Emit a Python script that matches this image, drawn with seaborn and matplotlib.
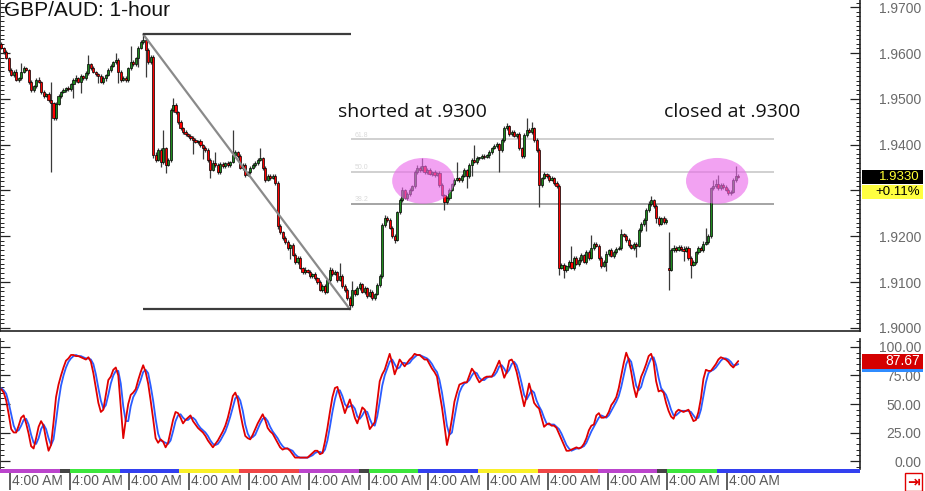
import numpy as np
import pandas as pd
import matplotlib
matplotlib.use("Agg")
import matplotlib.pyplot as plt
import matplotlib.transforms as mtransforms
from matplotlib.patches import Ellipse, Rectangle
from matplotlib.ticker import MultipleLocator
import seaborn as sns

# ---------------- data (hourly candles, one row = 24 hours) ----------------
closes = [
    1.9611, 1.9602, 1.9589, 1.9563, 1.9552, 1.9559, 1.9541, 1.9545, 1.9559, 1.9567, 1.9563, 1.9537,
    1.9519, 1.9528, 1.9541, 1.9537, 1.9515, 1.9506, 1.9511, 1.9497, 1.9491, 1.9458, 1.9489, 1.9506,
    1.9515, 1.9519, 1.9524, 1.9521, 1.9532, 1.9541, 1.9545, 1.9537, 1.9550, 1.9545, 1.9556, 1.9576,
    1.9567, 1.9559, 1.9554, 1.9550, 1.9537, 1.9545, 1.9552, 1.9563, 1.9572, 1.9580, 1.9585, 1.9559,
    1.9541, 1.9545, 1.9541, 1.9567, 1.9580, 1.9576, 1.9589, 1.9611, 1.9624, 1.9628, 1.9607, 1.9580,
    1.9591, 1.9377, 1.9367, 1.9388, 1.9362, 1.9393, 1.9356, 1.9367, 1.9476, 1.9487, 1.9471, 1.9449,
    1.9436, 1.9428, 1.9423, 1.9419, 1.9415, 1.9410, 1.9406, 1.9408, 1.9399, 1.9393, 1.9388, 1.9367,
    1.9345, 1.9360, 1.9356, 1.9340, 1.9358, 1.9353, 1.9360, 1.9356, 1.9362, 1.9377, 1.9384, 1.9375,
    1.9349, 1.9356, 1.9334, 1.9340, 1.9349, 1.9356, 1.9360, 1.9367, 1.9371, 1.9349, 1.9323, 1.9332,
    1.9327, 1.9332, 1.9316, 1.9223, 1.9209, 1.9196, 1.9188, 1.9175, 1.9181, 1.9159, 1.9144, 1.9153,
    1.9131, 1.9122, 1.9127, 1.9122, 1.9113, 1.9118, 1.9109, 1.9100, 1.9083, 1.9092, 1.9079, 1.9105,
    1.9127, 1.9118, 1.9122, 1.9105, 1.9113, 1.9092, 1.9083, 1.9065, 1.9050, 1.9083, 1.9074, 1.9087,
    1.9096, 1.9079, 1.9087, 1.9070, 1.9079, 1.9065, 1.9074, 1.9094, 1.9113, 1.9225, 1.9240, 1.9236,
    1.9218, 1.9201, 1.9192, 1.9253, 1.9279, 1.9301, 1.9284, 1.9292, 1.9301, 1.9310, 1.9340, 1.9349,
    1.9345, 1.9353, 1.9340, 1.9345, 1.9336, 1.9340, 1.9334, 1.9338, 1.9312, 1.9290, 1.9275, 1.9284,
    1.9301, 1.9314, 1.9323, 1.9327, 1.9323, 1.9332, 1.9345, 1.9332, 1.9356, 1.9367, 1.9362, 1.9371,
    1.9371, 1.9375, 1.9373, 1.9377, 1.9384, 1.9393, 1.9397, 1.9401, 1.9388, 1.9410, 1.9436, 1.9441,
    1.9423, 1.9428, 1.9419, 1.9423, 1.9393, 1.9375, 1.9421, 1.9432, 1.9428, 1.9436, 1.9410, 1.9388,
    1.9312, 1.9327, 1.9336, 1.9332, 1.9323, 1.9327, 1.9316, 1.9310, 1.9131, 1.9138, 1.9127, 1.9135,
    1.9144, 1.9131, 1.9153, 1.9140, 1.9149, 1.9159, 1.9144, 1.9166, 1.9153, 1.9175, 1.9184, 1.9179,
    1.9153, 1.9135, 1.9144, 1.9162, 1.9170, 1.9157, 1.9166, 1.9173, 1.9175, 1.9205, 1.9201, 1.9192,
    1.9181, 1.9175, 1.9184, 1.9179, 1.9214, 1.9227, 1.9236, 1.9257, 1.9271, 1.9279, 1.9266, 1.9240,
    1.9227, 1.9240, 1.9231, 1.9236, 1.9127, 1.9170, 1.9175, 1.9170, 1.9177, 1.9173, 1.9168, 1.9175,
    1.9153, 1.9138, 1.9144, 1.9166, 1.9175, 1.9170, 1.9184, 1.9188, 1.9201, 1.9305, 1.9310, 1.9314,
    1.9305, 1.9312, 1.9308, 1.9301, 1.9295, 1.9297, 1.9323, 1.9332, 1.9330,
]
first_open = 1.9620
gap_opens = {268: 1.9131}  # weekend open

# wick length in pips beyond the candle body
upper_wick = [
    4, 3, 5, 2, 4, 3, 6, 3, 20, 4, 3, 2, 5, 3, 4, 6, 3, 4, 2, 5, 40, 3, 4, 5,
    3, 4, 2, 5, 3, 4, 6, 3, 4, 2, 5, 20, 3, 4, 2, 3, 5, 4, 3, 4, 5, 3, 15, 4,
    3, 5, 4, 3, 35, 4, 3, 5, 4, 13, 3, 4, 5, 4, 6, 5, 4, 40, 3, 5, 4, 15, 4, 3,
    4, 3, 5, 2, 4, 3, 5, 3, 4, 3, 5, 4, 3, 6, 25, 3, 4, 5, 3, 4, 3, 55, 4, 3,
    5, 3, 4, 2, 4, 3, 5, 4, 22, 3, 4, 5, 3, 4, 3, 5, 4, 3, 5, 4, 3, 4, 5, 3,
    4, 3, 5, 2, 4, 3, 5, 3, 4, 5, 3, 4, 6, 3, 4, 3, 29, 4, 3, 5, 4, 20, 3, 4,
    5, 3, 4, 3, 5, 4, 3, 4, 5, 3, 6, 4, 3, 4, 5, 3, 4, 6, 3, 4, 5, 3, 4, 6,
    5, 18, 3, 4, 5, 3, 4, 3, 5, 4, 3, 4, 5, 3, 4, 35, 3, 4, 5, 3, 4, 3, 33, 4,
    3, 4, 5, 3, 4, 3, 5, 4, 3, 4, 5, 6, 3, 4, 5, 3, 4, 3, 5, 26, 4, 13, 3, 4,
    5, 3, 4, 3, 5, 4, 3, 4, 5, 3, 4, 3, 5, 35, 4, 3, 5, 4, 3, 4, 5, 28, 3, 4,
    5, 3, 4, 6, 3, 4, 5, 3, 4, 10, 3, 4, 5, 3, 4, 3, 5, 4, 3, 4, 5, 9, 3, 4,
    5, 3, 4, 3, 78, 4, 5, 3, 4, 3, 5, 4, 3, 4, 5, 3, 4, 3, 5, 30, 4, 3, 13, 11,
    20, 4, 5, 3, 4, 3, 5, 21, 4,
]
lower_wick = [
    3, 4, 2, 5, 3, 4, 3, 5, 4, 3, 2, 4, 5, 3, 4, 3, 5, 4, 3, 4, 151, 5, 4, 3,
    4, 3, 5, 4, 3, 30, 4, 3, 25, 4, 3, 5, 4, 3, 4, 15, 3, 4, 5, 3, 4, 3, 4, 25,
    4, 3, 5, 4, 3, 4, 5, 19, 3, 4, 60, 5, 4, 6, 4, 3, 11, 4, 18, 3, 5, 4, 3, 4,
    3, 4, 5, 3, 4, 30, 3, 4, 5, 25, 3, 4, 18, 3, 4, 5, 3, 4, 3, 5, 4, 3, 4, 5,
    3, 4, 5, 3, 4, 3, 5, 4, 3, 4, 5, 3, 4, 3, 5, 6, 4, 3, 5, 4, 25, 3, 4, 5,
    3, 4, 5, 3, 4, 3, 5, 4, 3, 5, 4, 3, 4, 5, 3, 4, 3, 5, 4, 3, 9, 4, 5, 3,
    4, 3, 5, 4, 3, 5, 4, 3, 4, 3, 4, 5, 3, 4, 6, 3, 5, 4, 3, 4, 5, 3, 4, 3,
    4, 3, 5, 4, 3, 4, 5, 3, 4, 3, 18, 4, 5, 3, 4, 3, 5, 4, 3, 27, 4, 25, 3, 4,
    5, 3, 4, 3, 5, 4, 3, 4, 48, 3, 4, 5, 3, 4, 3, 5, 4, 3, 4, 5, 3, 4, 5, 3,
    48, 4, 3, 5, 4, 3, 4, 5, 15, 3, 18, 4, 5, 3, 4, 3, 5, 4, 3, 4, 5, 3, 4, 3,
    4, 5, 3, 20, 4, 3, 5, 4, 3, 4, 3, 5, 4, 3, 4, 24, 3, 4, 5, 25, 3, 4, 5, 10,
    4, 3, 5, 4, 44, 3, 4, 5, 3, 4, 22, 3, 4, 29, 3, 4, 5, 3, 4, 3, 5, 4, 3, 4,
    5, 3, 4, 3, 5, 4, 3, 4, 3,
]

# stochastic oscillator (%K red, %D blue), one value per candle
stoch_k = [
    63, 60, 53, 41, 28, 25, 25, 31, 38, 40, 33, 24, 13, 11, 20, 30, 35, 31, 19, 9, 14, 34, 56, 67,
    75, 82, 88, 90, 93, 93, 92, 92, 91, 90, 89, 91, 87, 77, 64, 51, 43, 45, 58, 71, 74, 80, 82, 75,
    48, 20, 36, 50, 58, 60, 63, 71, 78, 84, 78, 68, 53, 37, 20, 16, 19, 17, 12, 16, 26, 36, 43, 42,
    38, 33, 36, 38, 40, 35, 32, 29, 27, 25, 22, 18, 15, 12, 15, 18, 22, 26, 31, 38, 47, 57, 60, 54,
    42, 31, 22, 20, 19, 23, 28, 33, 37, 41, 36, 29, 26, 24, 20, 16, 12, 10, 11, 11, 9, 6, 3, 3,
    3, 3, 3, 3, 5, 7, 9, 9, 6, 7, 17, 29, 43, 56, 64, 65, 57, 50, 42, 48, 54, 46, 38, 33,
    40, 47, 45, 37, 28, 31, 34, 52, 70, 76, 80, 87, 94, 86, 76, 82, 89, 86, 83, 86, 89, 91, 94, 93,
    93, 91, 89, 89, 85, 81, 78, 74, 60, 47, 31, 14, 24, 37, 52, 60, 67, 68, 69, 69, 75, 81, 78, 73,
    69, 71, 73, 74, 74, 74, 78, 83, 88, 81, 73, 78, 88, 89, 85, 78, 68, 58, 48, 57, 68, 60, 51, 48,
    46, 38, 30, 32, 33, 31, 31, 29, 24, 19, 14, 9, 9, 10, 11, 12, 11, 12, 15, 20, 27, 31, 32, 40,
    42, 38, 38, 39, 43, 49, 52, 56, 64, 75, 86, 95, 89, 78, 65, 56, 65, 74, 79, 85, 92, 94, 87, 70,
    61, 62, 60, 51, 44, 39, 37, 43, 45, 44, 43, 44, 45, 40, 35, 36, 43, 55, 72, 80, 79, 79, 82, 85,
    89, 91, 90, 89, 87, 84, 82, 85, 87.67,
]
stoch_d = [
    64, 62, 59, 51, 41, 31, 26, 27, 31, 36, 37, 32, 23, 16, 15, 20, 28, 32, 28, 20, 14, 19, 35, 52,
    66, 75, 82, 87, 90, 92, 93, 92, 92, 91, 90, 90, 89, 85, 76, 64, 53, 46, 49, 58, 68, 75, 79, 79,
    68, 48, 35, 35, 48, 56, 60, 65, 71, 78, 80, 77, 66, 53, 37, 24, 18, 17, 16, 15, 18, 26, 35, 40,
    41, 38, 36, 36, 38, 38, 36, 32, 29, 27, 25, 22, 18, 15, 14, 15, 18, 22, 26, 32, 39, 47, 55, 57,
    53, 44, 32, 24, 20, 21, 23, 28, 33, 37, 38, 35, 30, 26, 23, 20, 16, 13, 11, 11, 10, 9, 6, 4,
    3, 3, 3, 3, 4, 5, 7, 8, 8, 7, 10, 18, 30, 43, 54, 62, 62, 57, 50, 47, 48, 49, 46, 39,
    37, 40, 44, 43, 37, 32, 31, 39, 52, 66, 75, 81, 87, 89, 85, 81, 82, 86, 86, 85, 86, 89, 91, 93,
    93, 92, 91, 90, 88, 85, 81, 78, 71, 60, 46, 31, 23, 25, 38, 50, 60, 65, 68, 69, 71, 75, 78, 77,
    73, 71, 71, 73, 74, 74, 75, 78, 83, 84, 81, 77, 80, 85, 87, 84, 77, 68, 58, 54, 58, 62, 60, 53,
    48, 44, 38, 33, 32, 32, 32, 30, 28, 24, 19, 14, 11, 9, 10, 11, 11, 12, 13, 16, 21, 26, 30, 34,
    38, 40, 39, 38, 40, 44, 48, 52, 57, 65, 75, 85, 90, 87, 77, 66, 62, 65, 73, 79, 85, 90, 91, 84,
    73, 64, 61, 58, 52, 45, 40, 40, 42, 44, 44, 44, 44, 43, 40, 37, 38, 45, 57, 69, 77, 79, 80, 82,
    85, 88, 90, 90, 89, 87, 84, 84, 85,
]

# annotations
fib_ratios = [0.382, 0.5, 0.618]
fib_labels = ["38.2", "50.0", "61.8"]
fib_end_hour = 311
ellipse_hours = [170, 288]
ellipse_price = 1.9321
note_hours = [165.5, 294]
note_price = 1.9471
notes = ["shorted at .9300", "closed at .9300"]
change_text = "+0.11%"

# session colour strip and time labels
session_edges = [0, 24, 28, 48, 72, 96, 120, 144, 148, 168, 192, 216, 240, 264, 268, 288, 346]
session_colors = ["#bb44cc", "#444444", "#3ce63c", "#3340f0", "#faf028", "#f04646",
                  "#bb44cc", "#444444", "#3ce63c", "#3340f0", "#faf028", "#f04646",
                  "#bb44cc", "#444444", "#3ce63c", "#3340f0"]
label_hours = [4, 28, 52, 76, 100, 124, 148, 172, 196, 220, 244, 268, 292]
time_label = "4:00 AM"

# ---------------- build candles ----------------
n = len(closes)
close = np.array(closes)
opens = np.r_[first_open, close[:-1]]
for h, p in gap_opens.items():
    opens[h] = p
high = np.maximum(opens, close) + np.array(upper_wick[:n]) / 1e4
low = np.minimum(opens, close) - np.array(lower_wick[:n]) / 1e4
x = np.arange(n) + 0.5
candles = pd.DataFrame({"x": x, "open": opens, "close": close, "high": high, "low": low})
candles["up"] = candles["close"] >= candles["open"]

sns.set_theme(style="white")
plt.rcParams["font.family"] = ["Liberation Sans", "DejaVu Sans"]

W, H = 925, 491
PX = 2.49  # pixels per hour
x_max = 860 / PX
price_lim = (1.89934, 1.97157)
stoch_lim = (-7.0, 107.0)

fig = plt.figure(figsize=(W / 100, H / 100), dpi=100)
ax = fig.add_axes([0, 1 - 331 / H, 860 / W, 331 / H])
ax2 = fig.add_axes([0, 1 - 469 / H, 860 / W, 130 / H])
ax3 = fig.add_axes([0, 0, 860 / W, 22 / H])

# ---------------- price panel ----------------
green, red = "#1f8a1f", "#ff0000"
ax.vlines(candles["x"], candles["low"], candles["high"], color="#3a3a3a", lw=0.9, zorder=2)
body = np.maximum((candles["close"] - candles["open"]).abs(), 0.00015)
ax.bar(candles["x"], body, bottom=np.minimum(candles["open"], candles["close"]), width=0.85,
       color=np.where(candles["up"], green, red), edgecolor="black", linewidth=0.5, zorder=3)

i_hi = int(np.argmax(high))
i_lo = int(np.argmin(low))
ax.plot([x[i_hi], x[i_lo]], [high[i_hi], low[i_lo]], color="#8a8a8a", lw=1.6, zorder=4)
ax.hlines([high[i_hi], low[i_lo]], x[i_hi], x[i_lo] + 0.6, color="#3c3c3c", lw=1.6, zorder=4)

rng = high[i_hi] - low[i_lo]
for r, lab in zip(fib_ratios, fib_labels):
    lvl = low[i_lo] + r * rng
    col = "#8c8c8c" if r == fib_ratios[0] else "#c4c4c4"
    ax.hlines(lvl, x[i_lo] + 0.6, fib_end_hour, color=col, lw=1.1, zorder=1)
    ax.text(x[i_lo] + 2, lvl + 0.0006, lab, fontsize=5, color="#dadada", zorder=1)

for h in ellipse_hours:
    ax.add_patch(Ellipse((h, ellipse_price), width=25, height=0.0100, fc="#ea6aea",
                         ec="none", alpha=0.62, zorder=6))
for h, t in zip(note_hours, notes):
    ax.text(h, note_price, t, ha="center", va="center", fontsize=14,
            family=["Open Sans", "DejaVu Sans"], color="#111111", zorder=7)

ax.set_xlim(0, x_max)
ax.set_ylim(*price_lim)
p_ticks = np.round(np.arange(1.90, 1.9701, 0.01), 2)
last = close[-1]
ax.set_yticks(p_ticks)
# the label under the last-price box is covered, as on the platform
ax.set_yticklabels(["" if abs(v - last) < 0.004 else f"{v:.4f}" for v in p_ticks], ha="right")
ax.yaxis.set_minor_locator(MultipleLocator(0.001))
ax.set_xticks([])

pp = (price_lim[1] - price_lim[0]) / 331  # price per pixel
tr = mtransforms.blended_transform_factory(ax.transAxes, ax.transData)
bh = 14 * pp
ax.add_patch(Rectangle((862 / 860, last - bh / 2), 61 / 860, bh, transform=tr,
                       fc="black", ec="none", clip_on=False, zorder=10))
ax.text(920 / 860, last, f"{last:.4f}", transform=tr, ha="right", va="center",
        color="#ffff33", fontsize=9.5, clip_on=False, zorder=11)
ax.add_patch(Rectangle((862 / 860, last - bh / 2 - bh - pp), 61 / 860, bh, transform=tr,
                       fc="#ffff40", ec="none", clip_on=False, zorder=10))
ax.text(920 / 860, last - bh - pp, change_text, transform=tr, ha="right", va="center",
        color="black", fontsize=9.5, clip_on=False, zorder=11)

# ---------------- stochastic panel ----------------
sns.lineplot(x=x, y=stoch_d[:n], ax=ax2, color="#2a5cff", lw=1.3, estimator=None)
sns.lineplot(x=x, y=stoch_k[:n], ax=ax2, color="#e00000", lw=1.3, estimator=None)
ax2.set_xlim(0, x_max)
ax2.set_ylim(*stoch_lim)
s_ticks = [0, 25, 50, 75, 100]
ax2.set_yticks(s_ticks)
ax2.set_yticklabels([f"{v:.2f}" for v in s_ticks], ha="right")
ax2.yaxis.set_minor_locator(MultipleLocator(5))
ax2.set_xticks([])
ax2.set_xlabel("")
ax2.set_ylabel("")

vp = (stoch_lim[1] - stoch_lim[0]) / 130  # value per pixel
tr2 = mtransforms.blended_transform_factory(ax2.transAxes, ax2.transData)
sh = 15 * vp
ax2.add_patch(Rectangle((862 / 860, stoch_d[n - 1] - sh / 2), 61 / 860, sh, transform=tr2,
                        fc="#2f8cff", ec="none", clip_on=False, zorder=9))
ax2.add_patch(Rectangle((862 / 860, stoch_k[n - 1] - sh / 2), 61 / 860, sh, transform=tr2,
                        fc="#d40000", ec="none", clip_on=False, zorder=10))
ax2.text(920 / 860, stoch_k[n - 1], f"{stoch_k[n - 1]:.2f}", transform=tr2, ha="right",
         va="center", color="white", fontsize=10, clip_on=False, zorder=11)

for a in (ax, ax2):
    a.yaxis.tick_right()
    a.tick_params(axis="y", which="both", left=True, right=True, direction="in",
                  labelleft=False, labelright=True, labelsize=10, labelcolor="#6a6a6a",
                  pad=44, color="#222222")
    a.tick_params(axis="y", which="major", length=7, width=0.9)
    a.tick_params(axis="y", which="minor", length=3, width=0.7)
    a.spines["top"].set_visible(False)
    for s in ("left", "right", "bottom"):
        a.spines[s].set_color("#222222")
        a.spines[s].set_linewidth(1.2)
ax2.spines["bottom"].set_visible(False)

# ---------------- time strip ----------------
ax3.set_xlim(0, x_max)
ax3.set_ylim(0, 22)
ax3.axis("off")
edges = np.array(session_edges)
ax3.bar(edges[:-1], 4, width=np.diff(edges), bottom=18, align="edge",
        color=session_colors, edgecolor="none")
ax3.vlines(label_hours, 1, 18, color="#333333", lw=1.1)
for h in label_hours:
    ax3.text(h + 0.8, 10, time_label, ha="left", va="center", fontsize=10, color="#5a5a5a")

fig.text(0.004, 0.997, "GBP/AUD: 1-hour", ha="left", va="top", fontsize=15, color="#111111")
fig.text(913.5 / W, 1 - 482 / H, "\u21e5", ha="center", va="center", fontsize=11,
         fontweight="bold", color="#e00000", family=["DejaVu Sans"],
         bbox=dict(boxstyle="square,pad=0.12", fc="white", ec="#e00000", lw=1))

fig.savefig("out.png", dpi=100)
